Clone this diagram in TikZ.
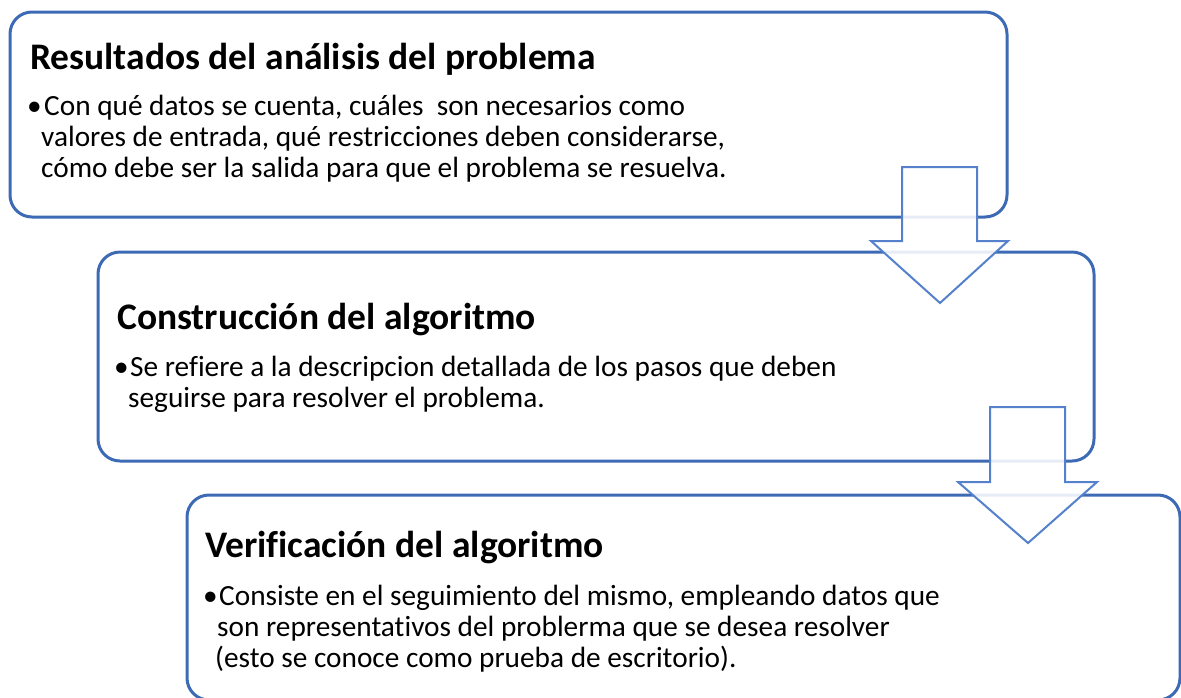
\documentclass[tikz,border=0pt]{standalone}
\usepackage{fontspec}
\setmainfont{Carlito}[Ligatures=NoCommon]
\definecolor{boxblue}{RGB}{61,106,181}
\definecolor{arrblue}{RGB}{84,128,204}
\begin{document}
\begin{tikzpicture}[x=1pt,y=-1pt,
  boxstyle/.style={draw=boxblue,line width=3pt,rounded corners=22pt,fill=white},
  arrstyle/.style={draw=arrblue,line width=2pt,fill=white,fill opacity=0.88,line join=miter},
  titlestyle/.style={anchor=base west,inner sep=0pt,font=\fontsize{37.5}{44}\selectfont\bfseries},
  bodystyle/.style={anchor=base west,inner sep=0pt,font=\fontsize{29.3}{35}\selectfont}]
\useasboundingbox (0,0) rectangle (1181,697);
% boxes
\draw[boxstyle] (10,12) rectangle (1007,217);
\draw[boxstyle] (98,252) rectangle (1094,461);
\draw[boxstyle] (187,495) rectangle (1180,700);
% arrows
\draw[arrstyle] (902,167) -- (977,167) -- (977,241) -- (1008,241) -- (940,303) -- (871,241) -- (902,241) -- cycle;
\draw[arrstyle] (990,407) -- (1065,407) -- (1065,482) -- (1097,482) -- (1028,543) -- (958,482) -- (990,482) -- cycle;
% box 1 text
\node[titlestyle] (t1) at (30,69) {Resultados del análisis del problema};
\node[bodystyle] (u1) at (27,115) {•};
\node[bodystyle] (l11) at (44,115) {Con qué datos se cuenta, cuáles\ \ son necesarios como};
\node[bodystyle] (l12) at (41,146) {valores de entrada, qué restricciones deben considerarse,};
\node[bodystyle] (l13) at (41,177) {cómo debe ser la salida para que el problema se resuelva.};
% box 2 text
\node[titlestyle] (t2) at (117,329) {Construcción del algoritmo};
\node[bodystyle] (u2) at (114,376) {•};
\node[bodystyle] (l21) at (130,376) {Se refiere a la descripcion detallada de los pasos que deben};
\node[bodystyle] (l22) at (128,407) {seguirse para resolver el problema.};
% box 3 text
\node[titlestyle] (t3) at (205,557) {Verificación del algoritmo};
\node[bodystyle] (u3) at (203,605) {•};
\node[bodystyle] (l31) at (219,605) {Consiste en el seguimiento del mismo, empleando datos que};
\node[bodystyle] (l32) at (217,636) {son representativos del problerma que se desea resolver};
\node[bodystyle] (l33) at (215,667) {(esto se conoce como prueba de escritorio).};
\end{tikzpicture}
\end{document}
